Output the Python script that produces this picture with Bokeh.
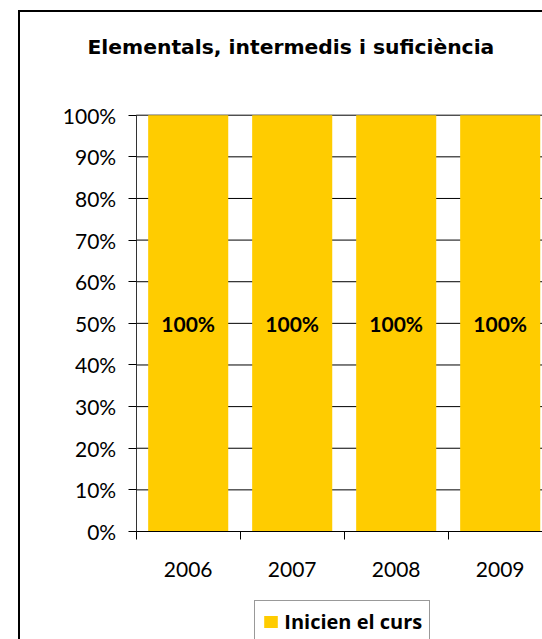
from bokeh.plotting import figure
from bokeh.models import (Range1d, FixedTicker, PrintfTickFormatter, Legend, LegendItem,
                          LabelSet, Label, ColumnDataSource)
from bokeh.core.properties import value
from bokeh.embed import file_html
from bokeh.resources import INLINE

# ---- data -------------------------------------------------------------
title_text = "Elementals, intermedis i suficiència"
years = ["2006", "2007", "2008", "2009"]
inicien_el_curs = [100, 100, 100, 100]
series_name = "Inicien el curs"
y_ticks = [0, 10, 20, 30, 40, 50, 60, 70, 80, 90, 100]

# ---- layout constants (pixels in the page) ----------------------------
FONT = "Lato"
GOLD = "#FFCC00"
FIG_LEFT, FIG_TOP = 20, 12          # figure placed inside the chart border
W, H = 522, 627
X0_PX, CAT_PX = 135.7, 104.0        # plot-area left edge, width of one category
Y0_PX, Y100_PX = 531.0, 114.7       # 0% and 100% lines
PPU = (Y0_PX - Y100_PX) / 100.0


def px_to_x(px):
    return (px - X0_PX) / CAT_PX


def px_to_y(py):
    return (Y0_PX - py) / PPU


centers = [i + 0.5 for i in range(len(years))]
bounds = [i for i in range(len(years) + 1)]
source = ColumnDataSource(dict(
    x=centers, year=years, top=inicien_el_curs,
    mid=[v / 2 for v in inicien_el_curs],
    label=[f"{v}%" for v in inicien_el_curs],
))

x_end = px_to_x(FIG_LEFT + W)
p = figure(width=W, height=H, output_backend="svg", toolbar_location=None,
           title_location=None,
           x_range=Range1d(px_to_x(FIG_LEFT), x_end),
           y_range=Range1d(px_to_y(FIG_TOP + H), px_to_y(FIG_TOP)),
           min_border=0, min_border_left=0, min_border_right=0,
           min_border_top=0, min_border_bottom=0)
p.margin = (FIG_TOP, 0, 0, FIG_LEFT)
p.styles = {"outline": "2px solid black"}
p.outline_line_color = None
p.background_fill_color = "white"
p.xgrid.grid_line_color = None
p.ygrid.grid_line_color = None

# horizontal gridlines (behind the bars)
p.segment(x0=[0] * len(y_ticks), x1=[x_end] * len(y_ticks), y0=y_ticks, y1=y_ticks,
          line_color="black", line_width=1)

bars = p.vbar(x="x", top="top", bottom=0, width=0.77, source=source,
              fill_color=GOLD, line_color=None)

# x axis
p.xaxis.fixed_location = 0
p.xaxis.bounds = (0, len(years))
p.xaxis.ticker = FixedTicker(ticks=centers, minor_ticks=bounds)
p.xaxis.major_label_overrides = {c: y for c, y in zip(centers, years)}
p.xaxis.major_tick_out = 0
p.xaxis.major_tick_in = 0
p.xaxis.minor_tick_out = 8
p.xaxis.minor_tick_in = 0
p.xaxis.minor_tick_line_color = "black"
p.xaxis.axis_line_color = "black"
p.xaxis.major_label_standoff = 22
p.xaxis.major_label_text_font = FONT
p.xaxis.major_label_text_font_size = "21px"
p.xaxis.major_label_text_color = "black"

# y axis
p.yaxis.fixed_location = 0
p.yaxis.bounds = (0, 100)
p.yaxis.ticker = FixedTicker(ticks=y_ticks, minor_ticks=[])
p.yaxis.formatter = PrintfTickFormatter(format="%d%%")
p.yaxis.major_tick_out = 8
p.yaxis.major_tick_in = 0
p.yaxis.minor_tick_out = 0
p.yaxis.minor_tick_in = 0
p.yaxis.major_tick_line_color = "black"
p.yaxis.axis_line_color = "#333333"
p.yaxis.major_label_standoff = 12
p.yaxis.major_label_text_font = FONT
p.yaxis.major_label_text_font_size = "21px"
p.yaxis.major_label_text_color = "black"

# value labels inside the bars
labels = LabelSet(x="x", y="mid", text="label", source=source,
                  text_align="center", text_baseline="middle",
                  text_font=value(FONT), text_font_style="bold", text_font_size="21px",
                  text_color="black")
p.add_layout(labels)

# chart title
title = Label(x=px_to_x(87), y=px_to_y(46.5), text=title_text,
              text_align="left", text_baseline="alphabetic",
              text_font="DejaVu Sans", text_font_style="bold",
              text_font_size="20.3px", text_color="black")
p.add_layout(title)

# legend (bottom edge falls outside the picture, as in the original)
legend = Legend(items=[LegendItem(label=series_name, renderers=[bars])],
                location=(254.3 - FIG_LEFT, (FIG_TOP + H) - (602.3 + 41)),
                orientation="horizontal",
                label_text_font="Open Sans", label_text_font_style="bold",
                label_text_font_size="20px", label_text_color="black",
                glyph_width=17, glyph_height=15,
                label_standoff=5, label_height=25, padding=7, margin=0, spacing=0,
                border_line_color="#333333", border_line_width=1,
                background_fill_color="white", background_fill_alpha=1)
p.add_layout(legend, "center")

open("out.html", "w").write(file_html(p, INLINE))
